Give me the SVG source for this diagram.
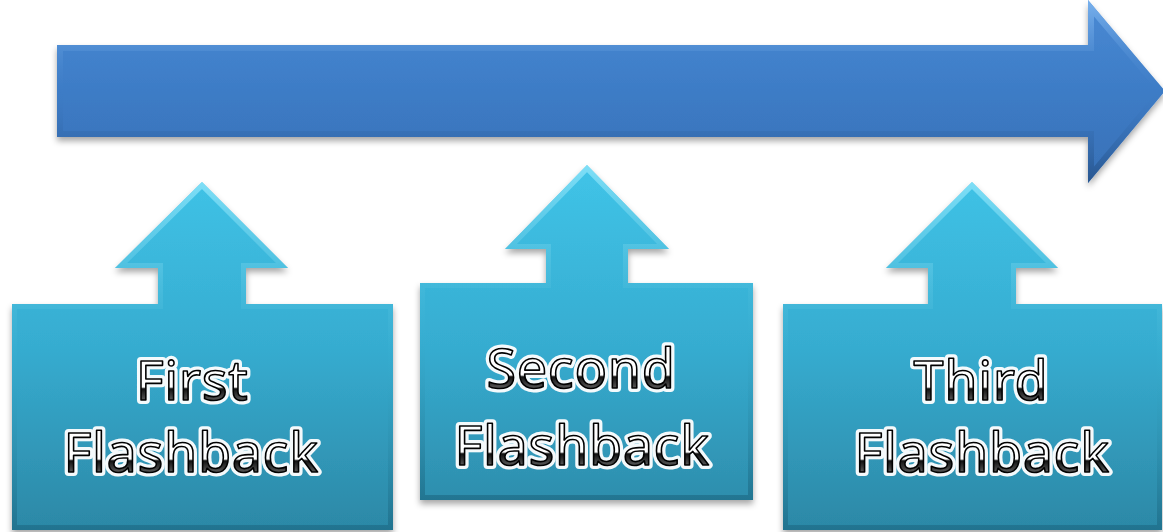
<svg xmlns="http://www.w3.org/2000/svg" width="1163" height="532" viewBox="0 0 1163 532">
<defs>
<style>
.lbl{font-family:"Noto Sans","DejaVu Sans",sans-serif;font-size:54px;text-anchor:middle;letter-spacing:0.6px}
.glow{fill:#fff;stroke:#fff;stroke-width:8;stroke-linejoin:round;opacity:0.95}
.ink{stroke:#000;stroke-width:1.6;stroke-linejoin:round}
.node{fill:url(#cyan);filter:url(#sh)}
.bev{fill:none;stroke:url(#bevc);stroke-width:10}
</style>
<linearGradient id="t400" gradientUnits="userSpaceOnUse" x1="0" y1="360" x2="0" y2="405">
<stop offset="0" stop-color="#fff"/><stop offset="0.6" stop-color="#fff"/><stop offset="0.64" stop-color="#111"/><stop offset="1" stop-color="#777"/>
</linearGradient>
<linearGradient id="t472" href="#t400" y1="432" y2="477"/>
<linearGradient id="t388" href="#t400" y1="348" y2="393"/>
<linearGradient id="t465" href="#t400" y1="425" y2="470"/>
<linearGradient id="cyan" gradientUnits="userSpaceOnUse" x1="0" y1="165" x2="0" y2="530">
<stop offset="0" stop-color="#40c4e8"/><stop offset="0.5" stop-color="#36acd0"/><stop offset="1" stop-color="#2c88a6"/>
</linearGradient>
<linearGradient id="bevc" x1="0" y1="0" x2="0" y2="1">
<stop offset="0" stop-color="#8fe6fb" stop-opacity="0.8"/><stop offset="0.5" stop-color="#39b0d2" stop-opacity="0.2"/><stop offset="1" stop-color="#1d6a85" stop-opacity="0.7"/>
</linearGradient>
<linearGradient id="blue" x1="0" y1="0" x2="0" y2="1">
<stop offset="0" stop-color="#4a8ad4"/><stop offset="0.5" stop-color="#3d7cc6"/><stop offset="1" stop-color="#3870b6"/>
</linearGradient>
<linearGradient id="bbev" x1="0" y1="0" x2="0" y2="1">
<stop offset="0" stop-color="#7fb6f0" stop-opacity="0.9"/><stop offset="0.5" stop-color="#3d7cc6" stop-opacity="0.1"/><stop offset="1" stop-color="#244f85" stop-opacity="0.8"/>
</linearGradient>
<filter id="sh" x="-10%" y="-10%" width="120%" height="130%">
<feDropShadow dx="0" dy="4" stdDeviation="3" flood-color="#000" flood-opacity="0.35"/>
</filter>
<clipPath id="c0"><path id="p0" d="M57,45 L1088,45 L1088,0 L1165,91 L1088,183 L1088,137 L57,137 Z"/></clipPath>
<clipPath id="c1"><path id="p1" d="M12,304 L158,304 L158,268 L115,268 L202,182 L288,268 L246,268 L246,304 L393,304 L393,530 L12,530 Z"/></clipPath>
<clipPath id="c2"><path id="p2" d="M420,283 L546,283 L546,249 L505,249 L587,165 L669,249 L628,249 L628,283 L753,283 L753,500 L420,500 Z"/></clipPath>
<clipPath id="c3"><path id="p3" d="M783,304 L928,304 L928,268 L886,268 L972,182 L1058,268 L1016,268 L1016,304 L1162,304 L1162,530 L783,530 Z"/></clipPath>
</defs>
<g id="timeline">
<use href="#p0" fill="url(#blue)" filter="url(#sh)"/>
<use href="#p0" fill="none" stroke="url(#bbev)" stroke-width="12" clip-path="url(#c0)"/>
</g>
<g id="first">
<use href="#p1" class="node"/>
<use href="#p1" class="bev" clip-path="url(#c1)"/>
<text class="lbl glow" x="192" y="400">First</text><text class="lbl ink" fill="url(#t400)" x="192" y="400">First</text>
<text class="lbl glow" x="191" y="472">Flashback</text><text class="lbl ink" fill="url(#t472)" x="191" y="472">Flashback</text>
</g>
<g id="second">
<use href="#p2" class="node"/>
<use href="#p2" class="bev" clip-path="url(#c2)"/>
<text class="lbl glow" x="581" y="388">Second</text><text class="lbl ink" fill="url(#t388)" x="581" y="388">Second</text>
<text class="lbl glow" x="582" y="465">Flashback</text><text class="lbl ink" fill="url(#t465)" x="582" y="465">Flashback</text>
</g>
<g id="third">
<use href="#p3" class="node"/>
<use href="#p3" class="bev" clip-path="url(#c3)"/>
<text class="lbl glow" x="981" y="400">Third</text><text class="lbl ink" fill="url(#t400)" x="981" y="400">Third</text>
<text class="lbl glow" x="982" y="472">Flashback</text><text class="lbl ink" fill="url(#t472)" x="982" y="472">Flashback</text>
</g>
<g id="connectors"/>
</svg>
